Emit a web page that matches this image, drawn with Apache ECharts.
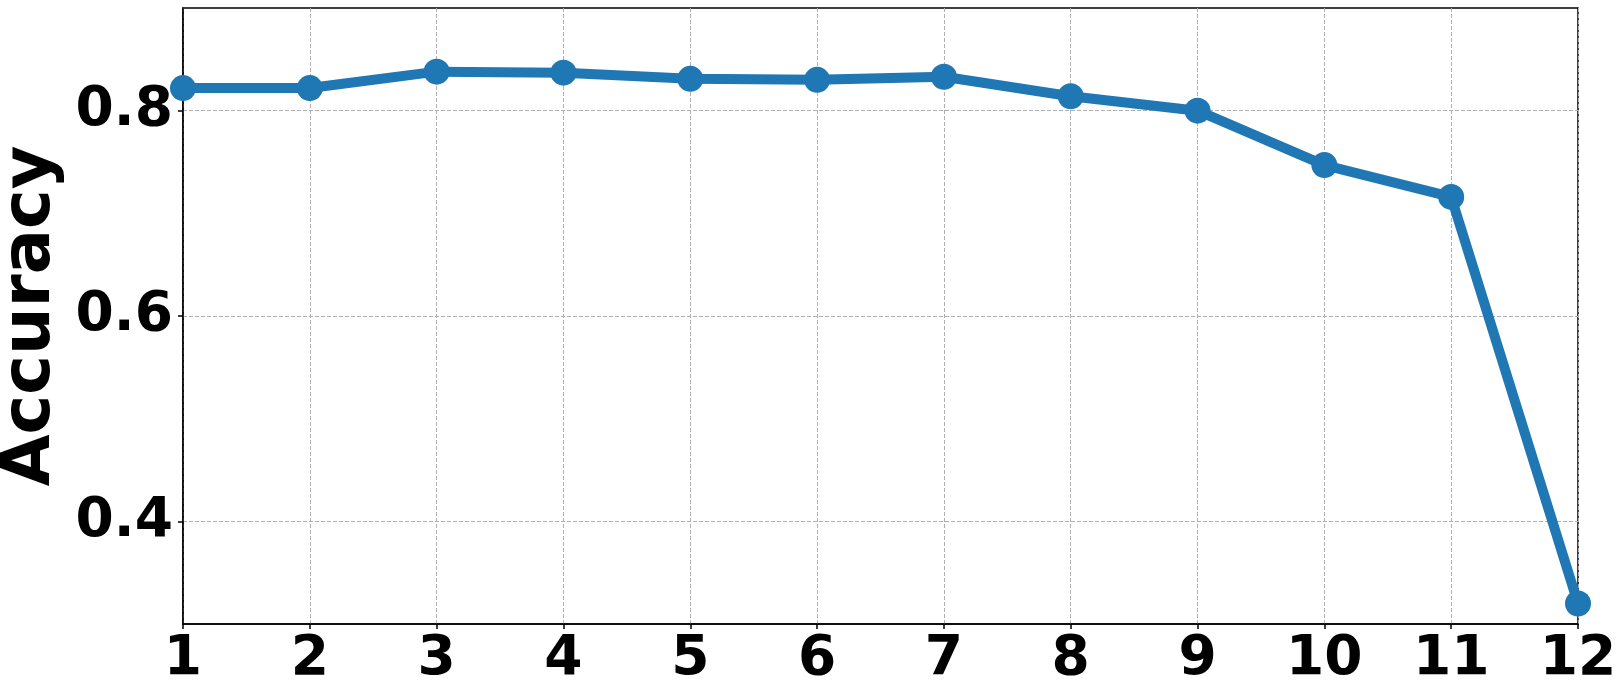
<!DOCTYPE html>
<html>
<head>
<meta charset="utf-8">
<script src="https://cdn.jsdelivr.net/npm/echarts@6/dist/echarts.min.js"></script>
<style>
  html, body { margin: 0; padding: 0; background: #fff; }
  #chart { width: 1616px; height: 685px; }
</style>
</head>
<body>
<div id="chart"></div>
<script>
  // number of layers kept / accuracy
  var layers = [1, 2, 3, 4, 5, 6, 7, 8, 9, 10, 11, 12];
  var accuracy = [0.822, 0.822, 0.838, 0.837, 0.831, 0.830, 0.833, 0.814, 0.800, 0.747, 0.716, 0.320];
  var yTicks = [0.4, 0.6, 0.8];

  var font = 'DejaVu Sans';
  var chart = echarts.init(document.getElementById('chart'));

  var points = layers.map(function (x, i) { return [x, accuracy[i]]; });

  var option = {
    animation: false,
    backgroundColor: '#fff',
    grid: {
      left: 183, right: 38, top: 8, bottom: 61,
      outerBoundsMode: 'none',
      containLabel: false,
      show: true, borderColor: '#000', borderWidth: 1.5
    },
    xAxis: {
      type: 'value',
      min: 1, max: 12, interval: 1,
      axisLine: { show: true, lineStyle: { color: '#000', width: 1.5 } },
      axisTick: { show: true, length: 5, inside: false, lineStyle: { color: '#000', width: 1.5 } },
      axisLabel: {
        color: '#000', fontFamily: font, fontWeight: 'bold', fontSize: 55, margin: 8
      },
      splitLine: { show: true, lineStyle: { color: '#b0b0b0', type: [4, 2], width: 1 } }
    },
    yAxis: {
      type: 'value',
      min: 0.3, max: 0.9,
      name: 'Accuracy',
      nameLocation: 'middle',
      nameRotate: 90,
      nameGap: 114,
      nameTextStyle: { color: '#000', fontFamily: font, fontWeight: 'bold', fontSize: 67 },
      axisLine: { show: true, lineStyle: { color: '#000', width: 1.5 } },
      axisTick: { show: true, length: 5, customValues: yTicks, lineStyle: { color: '#000', width: 1.5 } },
      axisLabel: {
        color: '#000', fontFamily: font, fontWeight: 'bold', fontSize: 55, margin: 10,
        customValues: yTicks,
        formatter: function (v) { return v.toFixed(1); }
      },
      splitLine: { show: true, lineStyle: { color: '#b0b0b0', type: [4, 2], width: 1 } }
    },
    series: [{
      type: 'line',
      data: points,
      symbol: 'circle',
      symbolSize: 26,
      showAllSymbol: true,
      clip: true,
      lineStyle: { color: '#1f77b4', width: 10 },
      itemStyle: { color: '#1f77b4' }
    }]
  };
  chart.setOption(option);
</script>
</body>
</html>
